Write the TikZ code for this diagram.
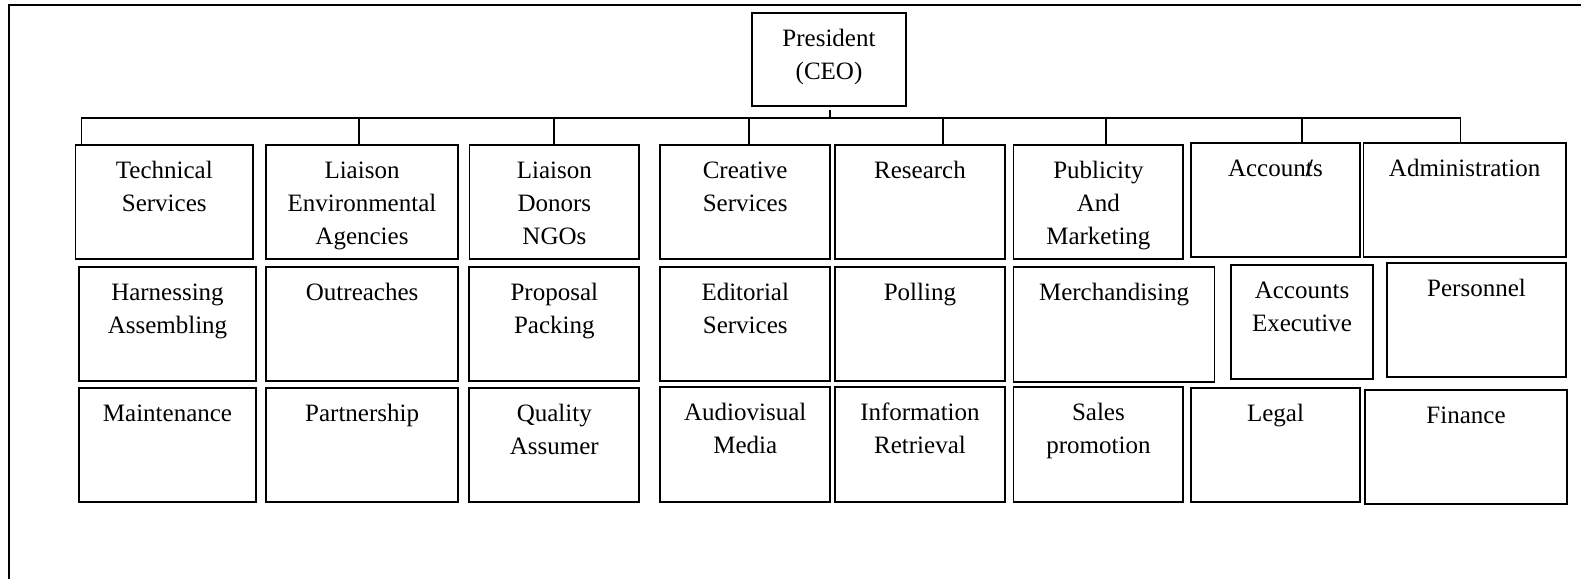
\documentclass[tikz,border=0pt]{standalone}
\usepackage{fontspec}
\setmainfont{Liberation Serif}
\usetikzlibrary{calc}
\tikzset{
  boxst/.style={draw=black, line width=1.8pt, rectangle, inner sep=0pt, fill=none},
  txt/.style={font=\fontsize{25}{33}\selectfont, align=center, inner sep=0pt, anchor=north},
  conn/.style={draw=black, line width=1.8pt},
}
\newcommand\orgbox[6]{%
  \node[boxst, minimum width={(#4-#2)*1pt}, minimum height={(#5-#3)*1pt}]
    (#1) at ({(#2+#4)/2},{(#3+#5)/2}) {};
  \node[txt] (#1-l) at ({(#2+#4)/2},{#3+10}) {\strut #6};
}
\begin{document}
\begin{tikzpicture}[x=1pt,y=-1pt]
\useasboundingbox (0,0) rectangle (1581,578);
\clip (0,0) rectangle (1581,578);
% outer frame (only top and left visible)
\draw[conn] (9,600) -- (9,5) -- (1600,5);

% president
\orgbox{pres}{752}{13.3}{906}{105.7}{President\\(CEO)}

% row 1
\orgbox{t1}{75.5}{144.7}{253}{258.7}{Technical\\Services}
\orgbox{t2}{266}{144.7}{458}{258.7}{Liaison\\Environmental\\Agencies}
\orgbox{t3}{469.5}{144.7}{639.3}{258.7}{Liaison\\Donors\\NGOs}
\orgbox{t4}{660.3}{144.7}{830}{258.7}{Creative\\Services}
\orgbox{t5}{835}{144.7}{1005}{258.7}{Research}
\orgbox{t6}{1013.5}{144.7}{1183.3}{259}{Publicity\\And\\Marketing}
\orgbox{t7}{1190.8}{143.3}{1360}{257.3}{Accoun\rlap{t}\textbf{/}s}
\orgbox{t8}{1363.5}{142.7}{1565.8}{256.7}{Administration}

% row 2
\orgbox{s1}{78.7}{267.3}{256.3}{381.3}{Harnessing\\Assembling}
\orgbox{s2}{266}{267.3}{458.3}{381.3}{Outreaches}
\orgbox{s3}{469.3}{267.3}{639.3}{381.3}{Proposal\\Packing}
\orgbox{s4}{660.3}{267.3}{830.2}{381.3}{Editorial\\Services}
\orgbox{s5}{835.2}{267.3}{1004.7}{381.3}{Polling}
\orgbox{s6}{1013.5}{266.7}{1214.5}{381.7}{Merchandising}
\orgbox{s7}{1231.3}{265}{1372.7}{379.3}{Accounts\\Executive}
\orgbox{s8}{1387.3}{263.3}{1565.7}{377.3}{Personnel}

% row 3
\orgbox{u1}{78.7}{387.7}{256.3}{502}{Maintenance}
\orgbox{u2}{266}{387.7}{458.3}{502}{Partnership}
\orgbox{u3}{469.3}{387.7}{639.3}{502}{Quality\\Assumer}
\orgbox{u4}{660.3}{387.3}{830.2}{501.7}{Audiovisual\\Media}
\orgbox{u5}{835.2}{387.3}{1004.7}{501.7}{Information\\Retrieval}
\orgbox{u6}{1013.5}{387.3}{1183.3}{501.7}{Sales\\promotion}
\orgbox{u7}{1190.7}{387.7}{1360.3}{501.7}{Legal}
\orgbox{u8}{1365}{390}{1567}{504}{Finance}

% connectors
\coordinate (d1) at (81.5,118);
\coordinate (d2) at (359.3,118);
\coordinate (d3) at (553.6,118);
\coordinate (d4) at (748.9,118);
\coordinate (d5) at (942.9,118);
\coordinate (d6) at (1106.3,118);
\coordinate (d7) at (1302,118);
\coordinate (d8) at (1460.5,118);
\coordinate (tick) at (830,110);

\draw[conn] (d1 |- t1.north) -- (d1) -- (d8) -- (d8 |- t8.north);
\draw[conn] (tick) -- (tick |- d1);
\draw[conn] (d2) -- (d2 |- t2.north);
\draw[conn] (d3) -- (d3 |- t3.north);
\draw[conn] (d4) -- (d4 |- t4.north);
\draw[conn] (d5) -- (d5 |- t5.north);
\draw[conn] (d6) -- (d6 |- t6.north);
\draw[conn] (d7) -- (d7 |- t7.north);
\end{tikzpicture}
\end{document}
